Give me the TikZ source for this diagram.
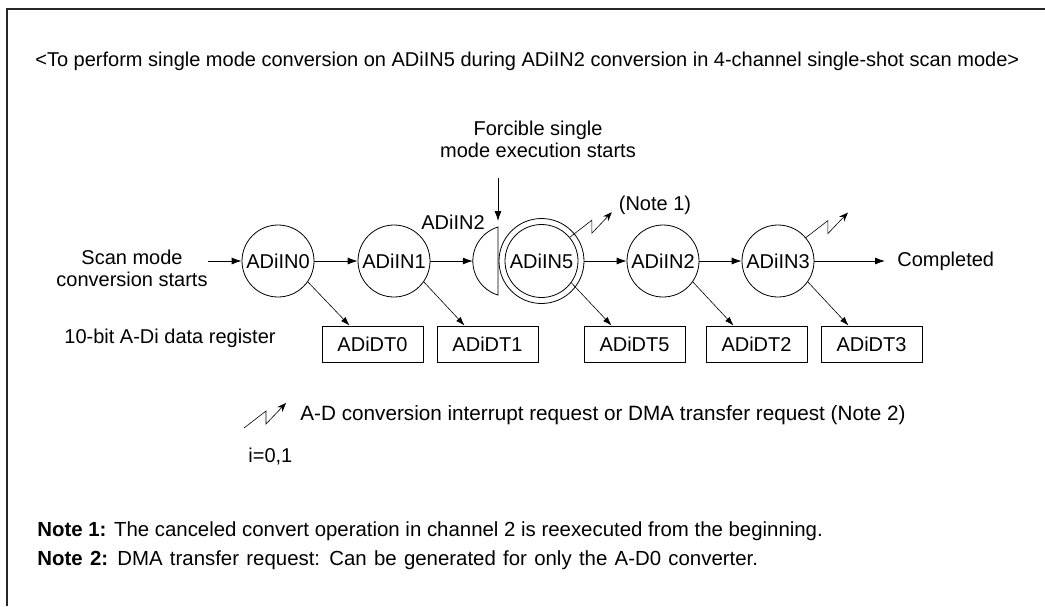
\documentclass[tikz,border=0pt]{standalone}
\usepackage{fontspec}
\setmainfont{Liberation Sans}
\usetikzlibrary{arrows.meta}

\begin{document}
\begin{tikzpicture}[x=1pt, y=-1pt, line width=0.8pt, >={Latex[length=10pt,width=7pt]},
    every node/.style={font=\fontsize{20}{22}\selectfont, inner sep=0pt},
    chan/.style={draw, circle, minimum size=72pt},
    reg/.style={draw, minimum width=101pt, minimum height=36pt},
    store/.style={->, line width=0.6pt, >={Latex[length=9pt,width=6pt]}},
    notetext/.style={anchor=west, font=\fontsize{20.4}{22}\selectfont}]
  \useasboundingbox (0,0) rectangle (1045,606);
  % frame and heading
  \draw[line width=1.5pt, black!85] (7,606) -- (7,9) -- (1045,9);
  \node[anchor=west] (title) at (35,61)
       {<To perform single mode conversion on ADiIN5 during ADiIN2 conversion in 4-channel single-shot scan mode>};
  % channels
  \node[chan] (in0) at (278,261) {ADiIN0};
  \node[chan] (in1) at (394,261) {ADiIN1};
  \node[chan, minimum size=85pt] (in5) at (541.5,261) {ADiIN5};
  \draw (in5.center) circle[radius=36.5pt];
  \node[chan] (in2) at (663,261) {ADiIN2};
  \node[chan] (in3) at (778,261) {ADiIN3};
  % canceled ADiIN2 conversion
  \draw (498,227) arc[start angle=107, end angle=253, radius=35.6pt] -- cycle;
  \coordinate (cut) at (472.8,261);
  \node (cutlbl) at (453,222) {ADiIN2};
  \node[align=center] (force) at (538,139) {Forcible single\\mode execution starts};
  \coordinate (forcetop) at (498,178);
  \coordinate (forcetip) at (498,221);
  \draw[->] (forcetop) -- (forcetip);
  % scan flow
  \node[align=center] (scan) at (132,268) {Scan mode\\conversion starts};
  \draw[->] (scan.east |- in0) -- (in0);
  \draw[->] (in0) -- (in1);
  \draw[->] (in1) -- (cut);
  \draw[->] (in5) -- (in2);
  \draw[->] (in2) -- (in3);
  \node[anchor=west] (done) at (897,261) {Completed};
  \draw[->] (in3) -- ([xshift=-12pt]done.west);
  % data registers
  \node (regname) at (170,338) {10-bit A-Di data register};
  \node[reg] (dt0) at (372.5,344) {ADiDT0};
  \node[reg] (dt1) at (487.5,344) {ADiDT1};
  \node[reg] (dt5) at (634.5,344) {ADiDT5};
  \node[reg] (dt2) at (756.5,344) {ADiDT2};
  \node[reg] (dt3) at (871.5,344) {ADiDT3};
  \foreach \a/\b in {in0/dt0, in1/dt1, in2/dt2, in3/dt3}
    \draw[store] (\a.-35) -- ([xshift=28pt]\b.north west);
  \draw[store] ([shift={(-36:36.5pt)}]in5.center) -- ([xshift=28pt]dt5.north west);
  % interrupt / DMA requests
  \newcommand{\dmareq}[1]{\draw[->, >={Stealth[length=9pt,width=7pt]}, line width=0.6pt]
    (#1) -- ++(22,-17) -- ++(0,13) -- ++(20,-21);}
  \dmareq{[shift={(40:37pt)}]in5.center}
  \dmareq{in3.40}
  \node (noteref) at (655,205) {(Note 1)};
  % legend
  \coordinate (legend) at (244,428);
  \dmareq{legend}
  \node[anchor=west, font=\fontsize{20.7}{22}\selectfont] (legendtxt) at (300,415)
       {A-D conversion interrupt request or DMA transfer request (Note 2)};
  \node[anchor=west] (idx) at (248,457) {i=0,1};
  % notes
  \node[notetext] (note1) at (37,531)
       {\textbf{Note 1:} The canceled convert operation in channel 2 is reexecuted from the beginning.};
  \node[notetext] (note2) at (37,560)
       {\spaceskip=7.3pt\textbf{Note 2:} DMA transfer request: Can be generated for only the A-D0 converter.};
\end{tikzpicture}
\end{document}
